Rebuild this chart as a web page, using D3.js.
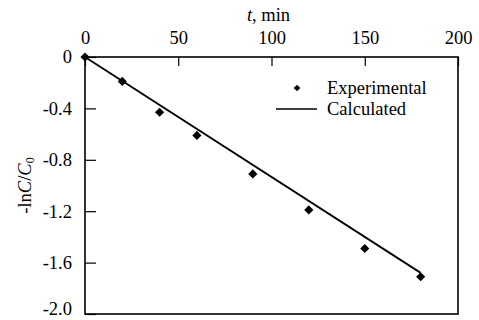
<!DOCTYPE html>
<html>
<head>
<meta charset="utf-8">
<script src="https://cdn.jsdelivr.net/npm/d3@7"></script>
<style>
  body { margin: 0; background: #fff; }
  svg { display: block; font-family: "Liberation Serif", "Times New Roman", serif; }
</style>
</head>
<body>
<script>
// time, min
const expTime = [0, 20, 40, 60, 90, 120, 150, 180];
// -ln C/C0, experimental points
const expValue = [0, -0.19, -0.43, -0.61, -0.91, -1.19, -1.49, -1.71];
// calculated straight line, end points
const calcTime = [0, 180];
const calcValue = [0, -1.68];
const xTicks = [0, 50, 100, 150, 200];
const yTicks = [0, -0.4, -0.8, -1.2, -1.6, -2.0];

const width = 479, height = 320;
const margin = {top: 57, right: 21, bottom: 6, left: 85};
const fs = 18.5;

const svg = d3.select("body").append("svg").attr("width", width).attr("height", height);

const x = d3.scaleLinear().domain([0, 200]).range([margin.left, width - margin.right]);
const y = d3.scaleLinear().domain([0, -2]).range([margin.top, height - margin.bottom]);

// frame
svg.append("rect")
  .attr("x", x(0)).attr("y", y(0))
  .attr("width", x(200) - x(0)).attr("height", y(-2) - y(0))
  .attr("fill", "none").attr("stroke", "#000").attr("stroke-width", 1.6);

// top axis, ticks point inward
const xAxis = svg.append("g")
  .attr("transform", `translate(0,${y(0)})`)
  .call(d3.axisTop(x).tickValues(xTicks).tickSizeInner(-9).tickSizeOuter(0).tickPadding(13)
    .tickFormat(d3.format("d")));
xAxis.select(".domain").remove();
xAxis.selectAll("line").attr("stroke-width", 1.2);
xAxis.selectAll("text").attr("font-size", fs).attr("font-family", "Liberation Serif").attr("fill", "#000");

// left axis, ticks point inward, plain hyphen as minus sign
const yAxis = svg.append("g")
  .attr("transform", `translate(${x(0)},0)`)
  .call(d3.axisLeft(y).tickValues(yTicks).tickSizeInner(-11).tickSizeOuter(0).tickPadding(13)
    .tickFormat(d => d === 0 ? "0" : d3.format(".1f")(d).replace("\u2212", "-")));
yAxis.select(".domain").remove();
yAxis.selectAll("line").attr("stroke-width", 1.2);
yAxis.selectAll("text").attr("font-size", fs).attr("font-family", "Liberation Serif").attr("fill", "#000")
  .attr("dy", d => d === -2 ? "0.05em" : "0.32em");

// axis titles
const xt = svg.append("text")
  .attr("x", (x(0) + x(200)) / 2 - 3).attr("y", 21)
  .attr("text-anchor", "middle").attr("font-size", fs);
xt.append("tspan").attr("font-style", "italic").text("t");
xt.append("tspan").text(", min");

const yt = svg.append("text")
  .attr("transform", `translate(31,${(y(0) + y(-2)) / 2}) rotate(-90)`)
  .attr("text-anchor", "middle").attr("font-size", fs);
yt.append("tspan").text("-ln");
yt.append("tspan").attr("font-style", "italic").text("C");
yt.append("tspan").text("/");
yt.append("tspan").attr("font-style", "italic").text("C");
yt.append("tspan").attr("font-size", 12).attr("dy", 3).text("0");

// calculated line
const line = d3.line().x(d => x(d[0])).y(d => y(d[1]));
svg.append("path")
  .datum(d3.zip(calcTime, calcValue))
  .attr("d", line)
  .attr("fill", "none").attr("stroke", "#000").attr("stroke-width", 1.8);

// experimental points, diamonds as rotated squares
const diamond = d3.symbol().type(d3.symbolSquare).size(42);
svg.selectAll(".pt")
  .data(d3.zip(expTime, expValue))
  .enter().append("path")
  .attr("class", "pt")
  .attr("transform", d => `translate(${x(d[0])},${y(d[1])}) rotate(45)`)
  .attr("d", diamond)
  .attr("fill", "#000");

// legend
const lg = svg.append("g");
lg.append("path").attr("transform", "translate(297,88) rotate(45)")
  .attr("d", d3.symbol().type(d3.symbolSquare).size(22)).attr("fill", "#000");
lg.append("text").attr("x", 327).attr("y", 94).attr("font-size", fs).text("Experimental");
lg.append("line").attr("x1", 276).attr("x2", 317).attr("y1", 109).attr("y2", 109)
  .attr("stroke", "#000").attr("stroke-width", 1.5);
lg.append("text").attr("x", 327).attr("y", 115).attr("font-size", fs).text("Calculated");
</script>
</body>
</html>
